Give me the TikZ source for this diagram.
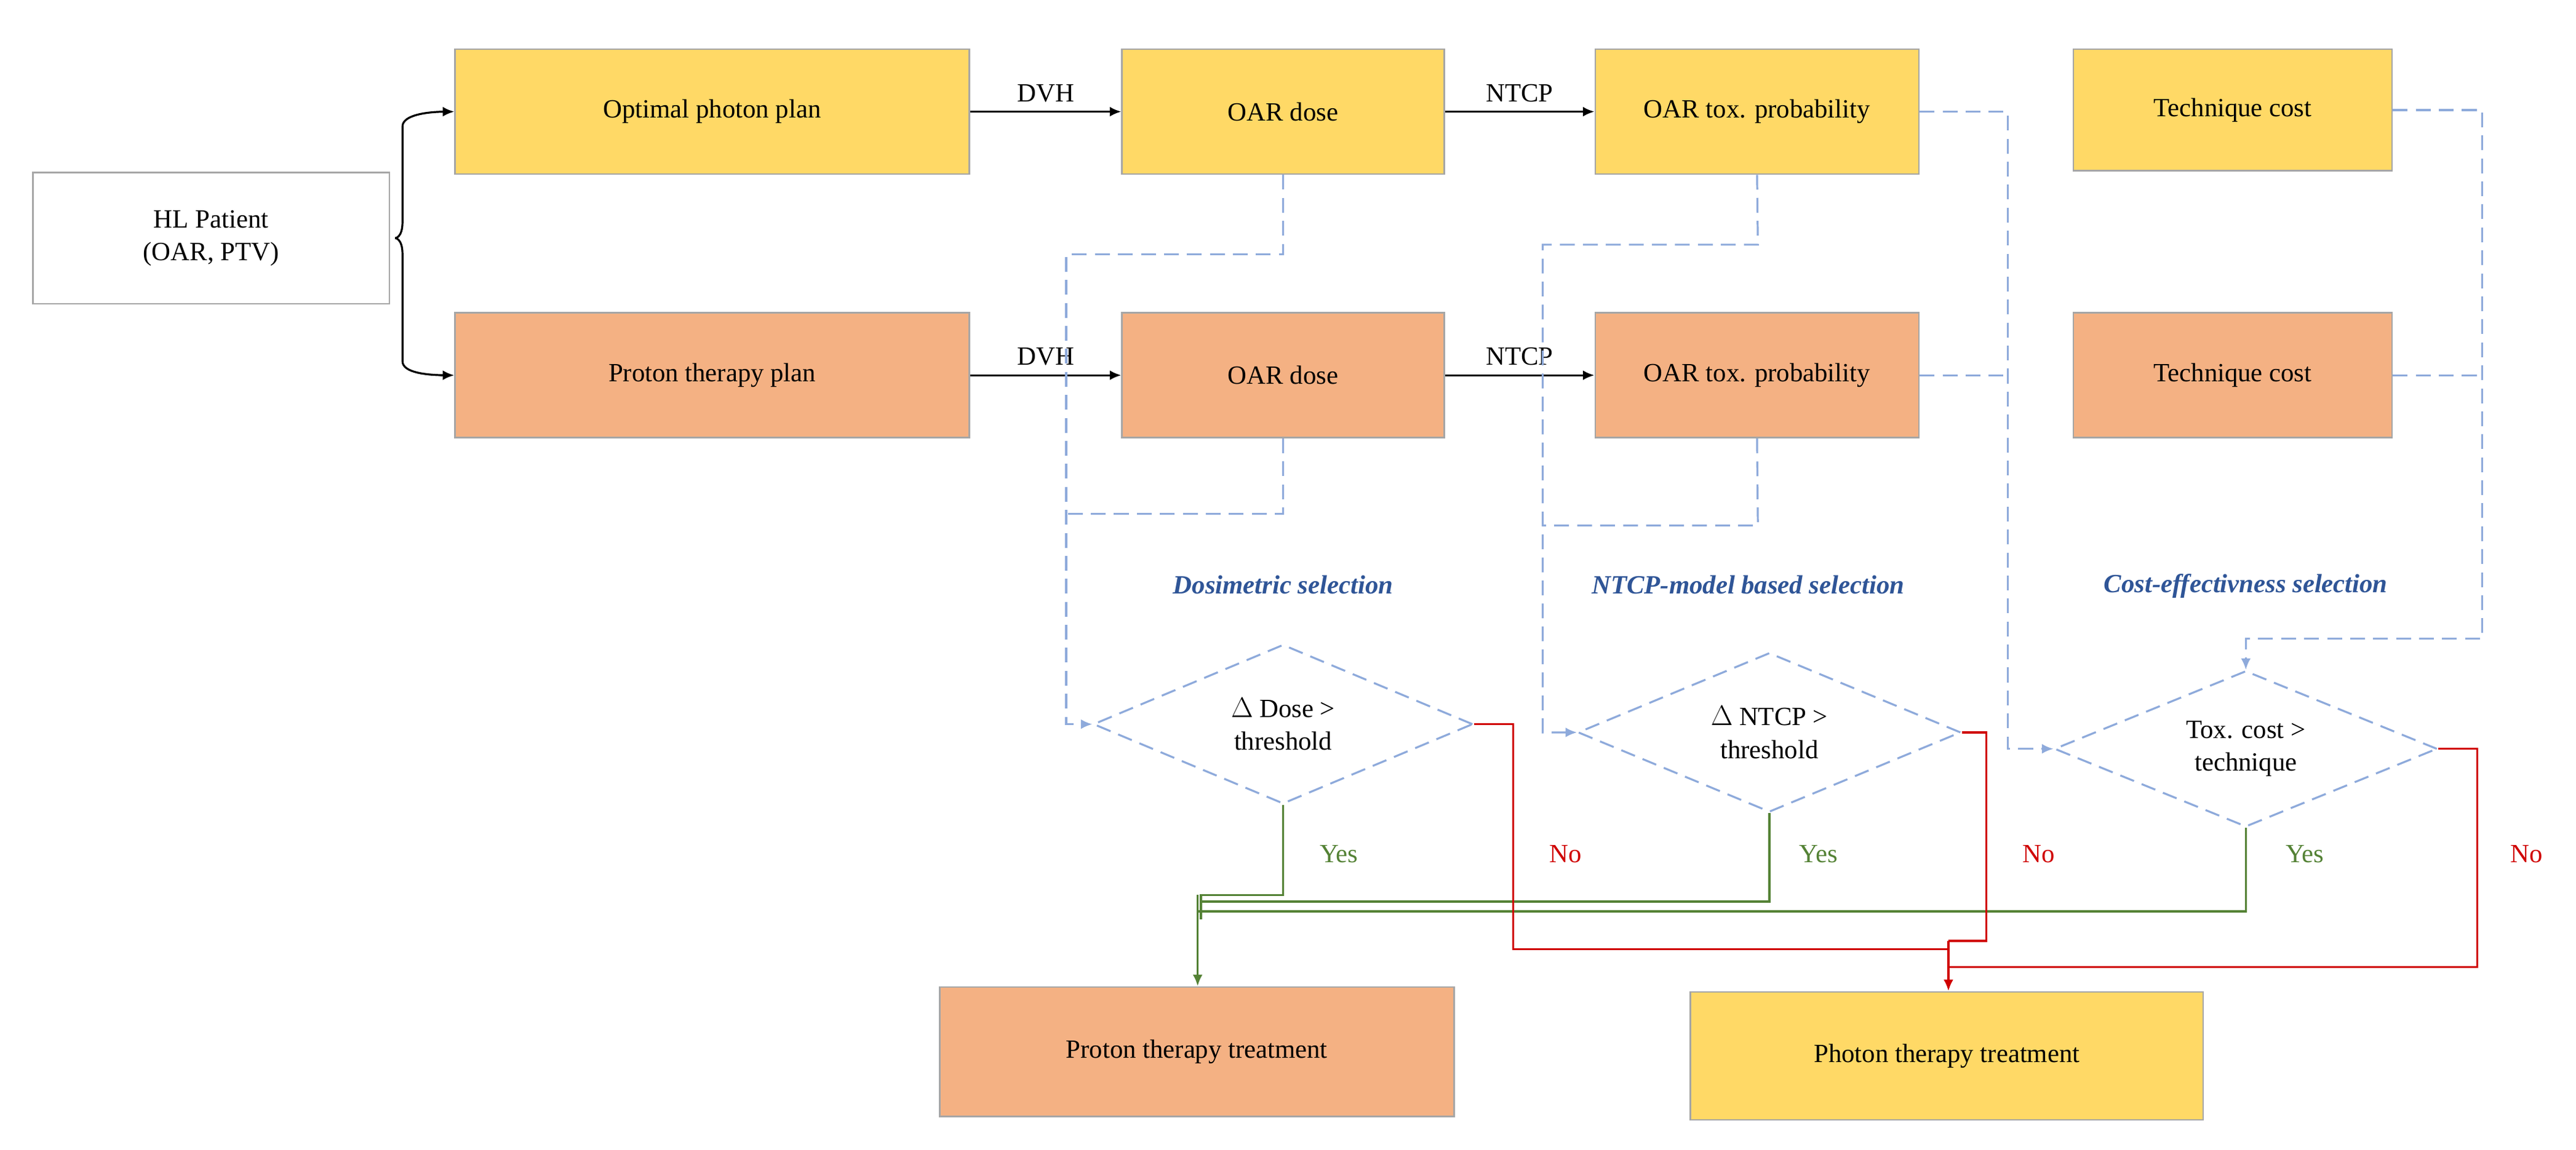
\documentclass[tikz,border=0pt]{standalone}
\usepackage{fontspec}
\setmainfont{Liberation Serif}
\usetikzlibrary{shapes.geometric,arrows.meta,decorations.pathreplacing}
\definecolor{yel}{HTML}{FFD966}
\definecolor{ora}{HTML}{F4B183}
\definecolor{bord}{HTML}{A6A6A6}
\definecolor{dblue}{HTML}{8EAADB}
\definecolor{lblue}{HTML}{2F5597}
\definecolor{grn}{HTML}{548235}
\definecolor{rd}{HTML}{D00000}
\begin{document}
\begin{tikzpicture}[x=1pt,y=-1pt,font=\fontsize{16}{20}\selectfont,
 box/.style={draw=bord,line width=1pt,minimum height=76pt,align=center,inner sep=0pt},
 yb/.style={box,fill=yel},ob/.style={box,fill=ora},
 dia/.style={diamond,draw=dblue,dash pattern=on 9pt off 5pt,line width=1.2pt,aspect=2.4,inner sep=0pt,align=center},
 arr/.style={-{Latex[length=7pt,width=6pt]},line width=1.2pt},
 dsh/.style={draw=dblue,line width=1.2pt,dash pattern=on 9pt off 5pt},
 darr/.style={dsh,-{Latex[length=7pt,width=6pt]}},
 gl/.style={grn,line width=1.2pt},rl/.style={rd,line width=1.2pt},
 sel/.style={text=lblue,font=\fontsize{16}{20}\selectfont\bfseries\itshape}]
\useasboundingbox (0,0) rectangle (1568,700);
\node[box,minimum width=217pt,minimum height=80pt,fill=white] (hl) at (128.5,145) {HL Patient\\(OAR, PTV)};
\node[yb,minimum width=313pt] (opp) at (433.5,68) {Optimal photon plan};
\node[ob,minimum width=313pt] (ptp) at (433.5,228.5) {Proton therapy plan};
\node[yb,minimum width=196pt] (d1) at (781,68) {OAR dose};
\node[ob,minimum width=196pt] (d2) at (781,228.5) {OAR dose};
\node[yb,minimum width=197pt] (t1) at (1069.5,68) {OAR tox. probability};
\node[ob,minimum width=197pt] (t2) at (1069.5,228.5) {OAR tox. probability};
\node[yb,minimum width=194pt,minimum height=74pt] (c1) at (1359,67) {Technique cost};
\node[ob,minimum width=194pt] (c2) at (1359,228.5) {Technique cost};
\node[ob,minimum width=313pt,minimum height=79pt] (pt) at (728.5,640.5) {Proton therapy treatment};
\node[yb,minimum width=312pt,minimum height=78pt] (ph) at (1185,643) {Photon therapy treatment};
\node[dia,minimum width=231pt,minimum height=97pt] (q1) at (781,441) {$\Delta$ Dose >\\threshold};
\node[dia,minimum width=233pt,minimum height=97pt] (q2) at (1077,446) {$\Delta$ NTCP >\\threshold};
\node[dia,minimum width=233pt,minimum height=95pt] (q3) at (1367,456) {Tox. cost >\\technique};
\node[sel] (s1) at (781,356) {Dosimetric selection};
\node[sel] (s2) at (1064,356) {NTCP-model based selection};
\node[sel] (s3) at (1367,357) {Cost-effectivness selection};
% brace
\draw[line width=1.2pt] (hl.east)+(3,0) coordinate (b0) .. controls (b0) and (245,145) .. (245,135) -- (245,77) .. controls (245,70) and (260,68) .. (272,68);
\draw[arr] (268,68) -- (opp.west);
\draw[line width=1.2pt] (b0) .. controls (b0) and (245,145) .. (245,155) -- (245,220) .. controls (245,227) and (260,228.5) .. (272,228.5);
\draw[arr] (268,228.5) -- (ptp.west);
\draw[arr] (opp) -- node[above=2pt]{DVH} (d1);
\draw[arr] (ptp) -- node[above=2pt]{DVH} (d2);
\draw[arr] (d1) -- node[above=2pt]{NTCP} (t1);
\draw[arr] (d2) -- node[above=2pt]{NTCP} (t2);
% dashed
\draw[darr] (d1.south) -- (781,155) -- (649,155) -- (649,441) -- (q1.west);
\draw[dsh] (d2.south) -- (781,313) -- (649,313);
\draw[darr] (t1.south) -- (1070,149) -- (939,149) -- (939,446) -- (q2.west);
\draw[dsh] (t2.south) -- (1070,320) -- (939,320);
\draw[darr] (t1.east) -- (1222,68) -- (1222,456) -- (q3.west);
\draw[dsh] (t2.east) -- (1222,228.5);
\draw[darr] (c1.east) -- (1511,67) -- (1511,389) -- (1367,389) -- (q3.north);
\draw[dsh] (c2.east) -- (1511,228.5);
% green
\draw[gl] (q1.south) -- (781,545) -- (731,545) -- (731,560);
\draw[gl] (q2.south) -- (1077,549) -- (731,549);
\draw[gl] (q3.south) -- (1367,555) -- (729,555);
\draw[gl,-{Latex[length=7pt,width=6pt]}] (729,545) -- (pt.north -| 729,0);
\node[grn] (y1) at (815,520) {Yes};
\node[grn] (y2) at (1107,520) {Yes};
\node[grn] (y3) at (1403,520) {Yes};
% red
\draw[rl] (q1.east) -- (921,441) -- (921,578) -- (1186,578);
\draw[rl] (q2.east) -- (1209,446) -- (1209,573) -- (1186,573);
\draw[rl] (q3.east) -- (1508,456) -- (1508,589) -- (1186,589);
\draw[rl,-{Latex[length=7pt,width=6pt]}] (1186,573) -- (ph.north -| 1186,0);
\node[rd] (n1) at (953,520) {No};
\node[rd] (n2) at (1241,520) {No};
\node[rd] (n3) at (1538,520) {No};
\end{tikzpicture}
\end{document}
